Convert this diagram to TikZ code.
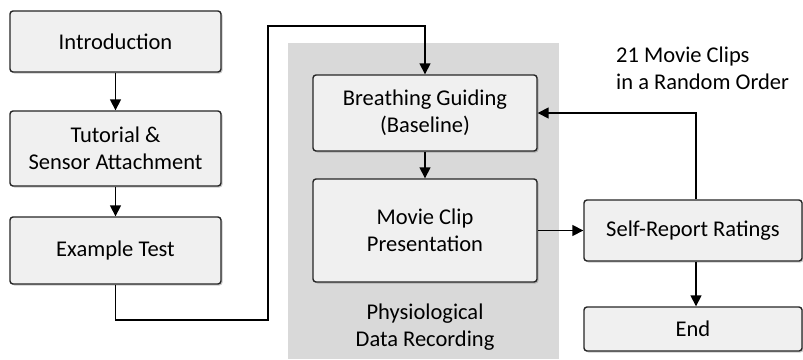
\documentclass[tikz,border=0pt]{standalone}
\usepackage{fontspec}
\setmainfont{Carlito}
\usetikzlibrary{arrows.meta,shadows}
\tikzset{
  box/.style={draw=black!85, line width=1.4pt, rounded corners=3pt, fill=black!6,
    align=center, inner sep=0pt, font=\fontsize{22.5}{27}\selectfont,
    drop shadow={shadow xshift=1.5pt, shadow yshift=-1.5pt, opacity=0.35, fill=black!60}},
  arr/.style={line width=1.6pt, draw=black, -{Triangle[length=11pt,width=11pt]}},
  lbl/.style={font=\fontsize{22.5}{27}\selectfont, align=center, inner sep=0pt}
}
\begin{document}
\begin{tikzpicture}[x=1pt,y=-1pt]
\useasboundingbox (0,0) rectangle (803,359);
\fill[white] (0,0) rectangle (803,359);
\fill[black!15] (288,43) rectangle (559,359);
\node[box, minimum width=211, minimum height=61] (intro) at (115.5,41.5) {Introduction};
\node[box, minimum width=211, minimum height=75] (tut) at (115.5,148.5) {Tutorial \&\\Sensor Attachment};
\node[box, minimum width=211, minimum height=67] (ex) at (115.5,250.5) {Example Test};
\node[box, minimum width=224, minimum height=76] (br) at (425,113) {Breathing Guiding\\(Baseline)};
\node[box, minimum width=224, minimum height=103] (mv) at (425,230.5) {Movie Clip\\Presentation};
\node[box, minimum width=218, minimum height=61] (sr) at (693,230.5) {Self-Report Ratings};
\node[box, minimum width=218, minimum height=44] (end) at (693,329) {End};
\node[lbl] (phys) at (425,327) {Physiological\\Data Recording};
\node[lbl, anchor=west, align=left] (clips) at (616,68) {21 Movie Clips\\in a Random Order};
\coordinate (c1) at (268,320);
\coordinate (c2) at (268,26);
\draw[arr] (intro) -- (tut);
\draw[arr] (tut) -- (ex);
\draw[arr] (ex.south) |- (c1) -- (c2) -| (br.north);
\draw[arr] (br) -- (mv);
\draw[arr] (mv.east) -- (sr.west);
\draw[arr] ([xshift=3pt]sr.north) |- (br.east);
\draw[arr] ([xshift=3pt]sr.south) -- ([xshift=3pt]end.north);
\end{tikzpicture}
\end{document}
